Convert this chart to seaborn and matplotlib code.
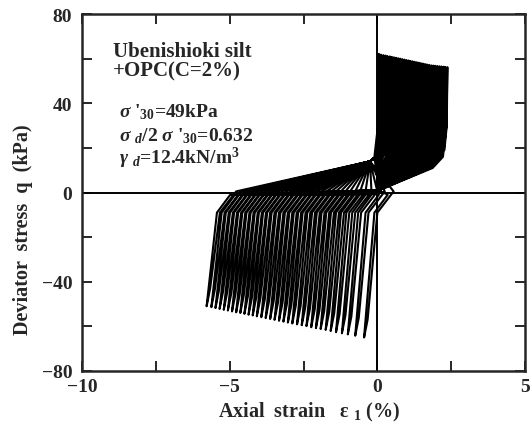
import numpy as np
import pandas as pd
import matplotlib
matplotlib.use("Agg")
import matplotlib.pyplot as plt
import seaborn as sns
from matplotlib.ticker import MultipleLocator

# ── per-cycle peak values ────────────────────────────────────────────
# negative side (q < 0): peak axial strain (%) and peak q (kPa)
eps_neg = [-0.45, -0.75, -1.0, -1.2, -1.4, -1.58, -1.75, -1.92, -2.08, -2.24,
           -2.4, -2.56, -2.72, -2.88, -3.03, -3.18, -3.33, -3.48, -3.63, -3.78,
           -3.93, -4.08, -4.22, -4.36, -4.5, -4.64, -4.78, -4.92, -5.06, -5.2,
           -5.34, -5.48, -5.62, -5.78]
q_neg = [-65.0, -64.2, -63.6, -63.1, -62.6, -62.1, -61.6, -61.2, -60.8, -60.4,
         -59.9, -59.5, -59.1, -58.7, -58.3, -57.9, -57.5, -57.1, -56.7, -56.3,
         -55.9, -55.5, -55.1, -54.8, -54.4, -54.0, -53.7, -53.3, -52.9, -52.6,
         -52.2, -51.8, -51.4, -51.0]
# positive side (q > 0)
eps_pos = [0.05, 0.12, 0.2, 0.27, 0.34, 0.42, 0.49, 0.56, 0.63, 0.7,
           0.77, 0.84, 0.91, 0.98, 1.05, 1.12, 1.19, 1.26, 1.33, 1.4,
           1.47, 1.54, 1.61, 1.68, 1.75, 1.82, 1.89, 1.96, 2.03, 2.1,
           2.17, 2.24, 2.3, 2.37]
q_pos = [62.0, 61.8, 61.6, 61.4, 61.2, 61.0, 60.8, 60.6, 60.4, 60.2,
         60.0, 59.8, 59.6, 59.4, 59.2, 59.0, 58.8, 58.6, 58.4, 58.2,
         58.0, 57.8, 57.6, 57.4, 57.2, 57.0, 56.9, 56.8, 56.7, 56.6,
         56.5, 56.4, 56.3, 56.2]

rows = []
def add(x, y):
    rows.append((len(rows), x, y))

# each cycle: +peak -> unload through the flat band -> -peak (slanted leaf)
# -> reload through the flat band -> next +peak
add(0.0, 0.0)
add(0.02, 30.0)
for i in range(len(eps_pos)):
    eR, qR = eps_pos[i], q_pos[i]
    eL, qL = eps_neg[i], q_neg[i]
    if i > 0:
        add(0.05, 17.0)
        add(eR - 0.1, 19.0)
        add(eR - 0.02, 30.0)
    add(eR, qR)
    add(eR - 0.03, 30.0)
    add(eR - 0.15, 16.0)
    if eR > 0.6:
        add(eR - 0.5, 11.0)
    add(0.05, 1.0)
    add(eL + 0.8, -1.0)
    add(eL + 0.35, -9.0)
    add(eL, qL)
    add(eL + 0.12, qL + 8.0)
    add(eL + 0.45, -9.0)
    add(eL + 1.0, 0.5)
    add(-0.25, 14.0)

df = pd.DataFrame(rows, columns=["order", "strain", "q"])

sns.set_style("ticks")
plt.rcParams["font.family"] = ["Liberation Serif", "DejaVu Serif"]
plt.rcParams["font.weight"] = "bold"
plt.rcParams["mathtext.fontset"] = "custom"
plt.rcParams["mathtext.rm"] = "Liberation Serif:bold"
plt.rcParams["mathtext.it"] = "Liberation Serif:italic:bold"
plt.rcParams["mathtext.bf"] = "Liberation Serif:bold"

fig = plt.figure(figsize=(5.32, 4.31), dpi=100)
ax = fig.add_axes([0.154, 0.137, 0.833, 0.828])

sns.lineplot(data=df, x="strain", y="q", sort=False, estimator=None,
             color="black", lw=1.5, ax=ax)

ax.axhline(0, color="black", lw=1.4)
ax.axvline(0, color="black", lw=1.4)

ax.set_xlim(-10, 5)
ax.set_ylim(-80, 80)
ax.xaxis.set_minor_locator(MultipleLocator(2.5))
ax.yaxis.set_minor_locator(MultipleLocator(20))
ax.tick_params(which="both", direction="in", top=True, right=True,
               width=1.4, length=7, labelsize=14)
ax.tick_params(axis="x", pad=5)
ax.tick_params(axis="y", pad=7)
ax.set_xticks([-10, -5, 0, 5])
ax.set_xticklabels(["\u221210", "\u22125", "0", "5"])
ax.set_yticks([-80, -40, 0, 40, 80])
ax.set_yticklabels(["\u221280", "\u221240", "0", "40", "80"])
for s in ax.spines.values():
    s.set_linewidth(1.8)

ax.set_xlabel("Axial  strain   \u03b5 $_{1}$ (%)", fontsize=14.5, fontweight="bold")
ax.set_ylabel("Deviator  stress  q  (kPa)", fontsize=14.5, fontweight="bold")
ax.xaxis.set_label_coords(0.512, -0.082)
ax.yaxis.set_label_coords(-0.11, 0.40)

kw = dict(fontsize=15, fontweight="bold", va="center", ha="left")
ax.text(-8.95, 63.5, "Ubenishioki silt", **kw)
ax.text(-8.95, 54.5, "+OPC(C=2%)", **kw)
kw["fontsize"] = 14
ax.text(-8.75, 36.5, r"$\sigma$ '$_{30}$=49kPa", **kw)
ax.text(-8.75, 25.5, r"$\sigma$ $_{d}$/2 $\sigma$ '$_{30}$=0.632", **kw)
ax.text(-8.75, 15.8, r"$\gamma$ $_{d}$=12.4kN/m$^{3}$", **kw)

fig.savefig("out.png", dpi=100)
